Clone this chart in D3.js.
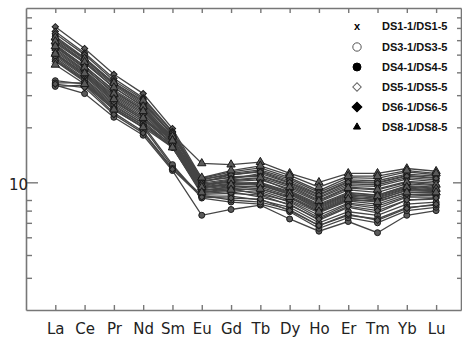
<!DOCTYPE html>
<html><head><meta charset="utf-8">
<script src="https://cdn.jsdelivr.net/npm/d3@7/dist/d3.min.js"></script>
<style>html,body{margin:0;padding:0;background:#fff;}svg{display:block;}</style>
</head><body><svg id="c" width="462" height="340"></svg>
<script>
const elements = ["La","Ce","Pr","Nd","Sm","Eu","Gd","Tb","Dy","Ho","Er","Tm","Yb","Lu"];
const groups = ["DS1-1/DS1-5","DS3-1/DS3-5","DS4-1/DS4-5","DS5-1/DS5-5","DS6-1/DS6-5","DS8-1/DS8-5"];
const groupSymbols = ["x","circleOpen","circle","diamondOpen","diamond","triangle"];
const yTickValues = [3,4,5,6,7,8,10,20,30,40,50,60,70,80];
const yLabelTicks = [10];

const ds1 = [
 [58,45,33,26,17.5,9.6,10.2,10.5,9.0,7.6,8.8,8.5,9.6,9.4],
 [52,40,29,23,16.2,9.0,9.5,9.2,8.2,6.9,8.0,7.9,8.8,8.7],
 [55,42,31,25,17.0,10.2,10.6,10.8,9.6,8.0,9.4,9.2,10.1,9.9],
 [48,37,27,21.5,15.8,8.7,8.9,8.3,7.6,6.2,7.3,6.8,8.0,8.1],
 [46.5,36,26,21,16.0,9.3,9.8,9.9,8.8,7.4,8.6,8.3,9.3,9.1]];
const ds3 = [
 [63,48,35,27.5,18.0,9.9,10.4,11.2,9.9,8.3,9.8,9.7,10.6,10.3],
 [50,38.5,28,22,16.5,9.1,9.2,8.6,7.9,6.6,7.7,7.4,8.4,8.5],
 [36,34.5,25,20,12.2,8.4,8.4,8.0,7.3,6.0,6.9,6.6,7.6,7.8],
 [34,30.6,22.7,18.1,11.6,6.6,7.1,7.5,6.3,5.4,6.1,5.3,6.6,7.0],
 [60,46,34,26.5,18.6,10.0,11.0,11.5,10.2,8.6,10.1,10.0,10.9,10.6]];
const ds4 = [
 [35,35,25.5,20.5,12.5,8.2,7.8,7.6,6.9,5.6,6.4,6.0,7.0,7.3],
 [33.5,34,24,19,11.9,8.5,8.0,7.8,7.1,5.8,6.6,6.3,7.3,7.5],
 [54,41,30,24,16.8,9.4,9.9,10.0,8.9,7.5,8.7,8.5,9.5,9.3],
 [47,36.5,26.5,21,15.5,8.9,9.0,8.8,7.8,6.4,7.6,7.2,8.3,8.3],
 [57,43,32,25.5,17.2,9.8,10.0,9.7,8.6,7.1,8.3,8.0,9.1,9.0]];
const ds5 = [
 [71,54,39,30.6,19.7,10.5,11.4,12.0,10.6,9.0,10.6,10.5,11.4,11.0],
 [67,51,37,29,19.0,10.3,11.2,11.7,10.4,8.8,10.3,10.2,11.1,10.8],
 [53,40.5,29.5,23.5,16.6,9.2,9.6,9.4,8.4,7.0,8.2,8.1,9.0,8.9],
 [49,38,27.5,22,16.3,8.8,9.3,9.0,8.0,6.8,7.9,7.6,8.6,8.6],
 [61,47,34.5,27,18.3,10.1,10.7,10.9,9.7,8.2,9.6,9.5,10.4,10.1]];
const ds6 = [
 [65,50,36,28.5,18.8,10.4,11.0,11.4,10.0,8.5,10.0,9.9,10.8,10.5],
 [56,43.5,31.5,25,17.4,9.5,10.1,10.3,9.2,7.8,9.1,8.8,9.8,9.6],
 [51,39,28.5,22.5,16.1,9.0,9.4,9.6,8.6,7.2,8.4,8.2,9.2,9.0],
 [46,35.5,25.5,20.5,15.6,8.6,8.7,8.5,7.5,6.3,7.4,7.0,8.0,8.2],
 [34.5,33,23.5,18.6,11.8,8.3,8.2,8.1,7.0,5.8,6.7,6.2,7.2,7.6]];
const ds8 = [
 [62,47.5,35,28,18.2,12.7,12.5,12.9,11.2,10.0,11.2,11.2,11.9,11.5],
 [59,45.5,33,26,17.8,10.6,11.6,12.3,10.9,9.4,10.8,10.8,11.6,11.2],
 [55.5,42.5,30.5,24.5,17.0,9.7,10.3,10.6,9.4,7.9,9.3,9.1,10.0,9.7],
 [50.5,39.5,28.5,22.5,16.9,9.4,9.7,9.8,8.7,7.3,8.5,8.4,9.4,9.2],
 [44,34.5,25,20,15.5,8.8,9.1,9.2,8.3,6.9,8.1,7.8,8.8,8.8]];
const seriesByGroup = [ds1, ds3, ds4, ds5, ds6, ds8];

const svg = d3.select("#c");
const L = 26, R = 461, T = 8, B = 310;
const x = d3.scaleLinear().domain([0, 14.85]).range([L, R]);
const y = d3.scaleLog().domain([2, 90]).range([B, T]);
const axisCol = "#777";

function symPath(kind, size) {
  const map = {x: d3.symbolX, circleOpen: d3.symbolCircle, circle: d3.symbolCircle,
    diamondOpen: d3.symbolSquare, diamond: d3.symbolSquare, triangle: d3.symbolTriangle};
  return d3.symbol().type(map[kind]).size(size)();
}
function rot(kind) { return kind.startsWith("diamond") ? " rotate(45)" : ""; }

// lines
const line = d3.line().x((d, i) => x(i + 1)).y(d => y(d));
const gLines = svg.append("g");
seriesByGroup.forEach(gs => gs.forEach(s => {
  gLines.append("path").attr("d", line(s)).attr("fill", "none")
    .attr("stroke", "#454545").attr("stroke-width", 1.3);
}));
// markers
const gMarks = svg.append("g");
seriesByGroup.forEach((gs, gi) => gs.forEach(s => {
  s.forEach((v, i) => {
    const k = groupSymbols[gi];
    const sz = k === "triangle" ? 30 : (k.startsWith("diamond") ? 20 : 28);
    gMarks.append("path").attr("d", symPath(k, sz))
      .attr("transform", `translate(${x(i + 1)},${y(v)})` + rot(k))
      .attr("fill", k === "x" ? "none" : "#5a5a5a")
      .attr("stroke", "#1a1a1a").attr("stroke-width", 1);
  });
}));

// axes
const idx = d3.range(1, 15);
const axB = svg.append("g").attr("transform", `translate(0,${B})`)
  .call(d3.axisBottom(x).tickValues(idx).tickSizeInner(-5).tickSizeOuter(0)
    .tickPadding(13).tickFormat(d => elements[d - 1]));
const axT = svg.append("g").attr("transform", `translate(0,${T})`)
  .call(d3.axisTop(x).tickValues(idx).tickSizeInner(-5).tickSizeOuter(0).tickFormat(""));
const axL = svg.append("g").attr("transform", `translate(${L},0)`)
  .call(d3.axisLeft(y).tickValues(yTickValues).tickSizeInner(-6).tickSizeOuter(0)
    .tickPadding(-2).tickFormat(d => yLabelTicks.includes(d) ? String(d) : ""));
const axR = svg.append("g").attr("transform", `translate(${R},0)`)
  .call(d3.axisRight(y).tickValues(yTickValues).tickSizeInner(-4).tickSizeOuter(0).tickFormat(""));
axL.selectAll(".tick").filter(d => yLabelTicks.includes(d)).select("line").attr("x2", 12);
axL.selectAll(".tick").filter(d => yLabelTicks.includes(d)).select("text").attr("dy", "0.45em");
axR.selectAll(".tick").filter(d => yLabelTicks.includes(d)).select("line").attr("x2", -8);

[axB, axT, axL, axR].forEach(g => {
  g.select(".domain").attr("stroke", axisCol).attr("stroke-width", 1.6);
  g.selectAll(".tick line").attr("stroke", axisCol).attr("stroke-width", 1.4);
  g.selectAll(".tick text").attr("font-family", "DejaVu Sans").attr("font-size", 15)
    .attr("fill", "#222");
});

// legend
const legY = [26, 47, 67, 87, 107, 127];
const leg = svg.append("g");
groups.forEach((gname, i) => {
  const k = groupSymbols[i];
  let fill = "#000", stroke = "#000", size = 50;
  if (k === "circleOpen") { fill = "#fff"; stroke = "#555"; size = 55; }
  if (k === "diamondOpen") { fill = "#fff"; stroke = "#666"; size = 36; }
  if (k === "diamond") size = 48;
  if (k === "triangle") size = 22;
  if (k === "x") {
    leg.append("text").attr("x", 357).attr("y", legY[i] + 4).attr("text-anchor", "middle")
      .attr("font-family", "Liberation Sans").attr("font-weight", "bold").attr("font-size", 11)
      .text("x");
  } else {
    leg.append("path").attr("d", symPath(k, size))
      .attr("transform", `translate(357,${legY[i]})` + rot(k))
      .attr("fill", fill).attr("stroke", stroke).attr("stroke-width", 1);
  }
  leg.append("text").attr("x", 382).attr("y", legY[i] + 4)
    .attr("font-family", "Liberation Sans").attr("font-weight", "bold").attr("font-size", 11)
    .attr("fill", "#111").text(gname);
});
</script></body></html>
